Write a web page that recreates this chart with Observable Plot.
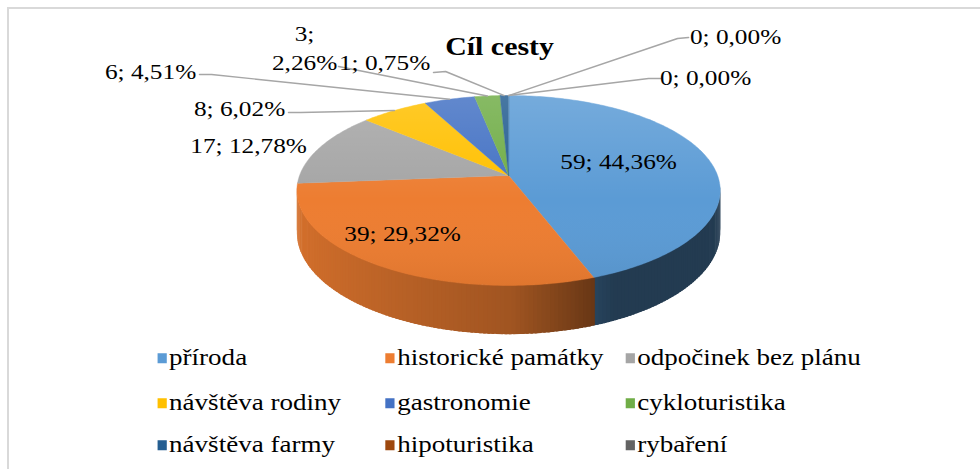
<!DOCTYPE html>
<html><head><meta charset="utf-8">
<script src="https://cdn.jsdelivr.net/npm/d3@7"></script>
<script src="https://cdn.jsdelivr.net/npm/@observablehq/plot@0.6"></script>
<style>
html,body{margin:0;padding:0;background:#fff;}
body{width:980px;height:469px;overflow:hidden;position:relative;font-family:"Liberation Serif",LiberationSerif,Tinos,"Times New Roman",Times,"DejaVu Serif",serif;}
#frame{position:absolute;left:7px;top:7px;right:-10px;bottom:-10px;border-top:2px solid #d9d9d9;border-left:2px solid #d9d9d9;}
#wrap{position:absolute;left:0;top:0;width:852px;height:469px;transform:scaleX(1.1502);transform-origin:0 0;}
#chart svg{display:block;}
#chart svg text{font-family:"Liberation Serif",LiberationSerif,Tinos,"Times New Roman",Times,"DejaVu Serif",serif !important;}
#legend{position:absolute;left:0;top:340px;width:852px;height:129px;}
.item{position:absolute;display:flex;align-items:center;font-size:23.5px;color:#000;white-space:nowrap;line-height:1;transform:translateY(-50%);}
.sw{width:8.5px;height:10px;margin-right:2px;flex:none;}
</style></head><body>
<div id="frame"></div>
<div id="wrap"><div id="chart"></div><div id="legend"></div></div>
<script>
// ---- data ----
const title = "Cíl cesty";
const categories = ["příroda","historické památky","odpočinek bez plánu","návštěva rodiny","gastronomie","cykloturistika","návštěva farmy","hipoturistika","rybaření"];
const counts = [59,39,17,8,6,3,1,0,0];
const colors = ["#5B9BD5","#ED7D31","#A5A5A5","#FFC000","#4472C4","#70AD47","#255E91","#9E480E","#636363"];

// ---- layout (not data) ----
const G = {cx:508, cy:175, rx:209, ry:92.6, persp:0.158, depth:41};
const labelLayout = [
  {i:0, x:618, y:159},
  {i:1, x:402, y:231},
  {i:2, x:248, y:143},
  {i:3, x:239, y:106, lead:[[288,112],[300,112]]},
  {i:4, x:150, y:69,  lead:[[199,74],[211,74]]},
  {i:5, x:304, y:46,  lead:[[338,66]], wrap:true},
  {i:6, x:384, y:60,  lead:[[433,72],[445,71]]},
  {i:7, x:735, y:34,  lead:[[688,37],[677,38]]},
  {i:8, x:705, y:75,  lead:[[660,78],[648,78]]}
];
const titlePos = {x:499, y:46};
const legendCols = [136.5, 334.8, 543.5];
const legendRows = [18, 63, 105];

// ---- geometry ----
const total = d3.sum(counts);
const pct = counts.map(c => (c/total*100).toFixed(2).replace(".", ",") + "%");
const arcs = d3.pie().sort(null).value(d => d)(counts);
function proj(theta, r = 1) {
  const u = Math.sin(theta)*r, v = Math.cos(theta)*r;
  const s = 1/(1 + G.persp*v);
  return [G.cx + G.rx*u*s, G.cy - G.ry*v*s, s];
}
function shade(col, f) { const c = d3.rgb(col); return d3.rgb(c.r*f, c.g*f, c.b*f).formatHex(); }
function sideFactor(u) { return u < 0 ? 0.68 - 0.22*u : Math.max(0.38, 0.68 - 0.7*u); }

const step = Math.PI/180;
const topRows = [], sideQuads = [];
arcs.forEach((a, i) => {
  if (a.endAngle - a.startAngle <= 0) return;
  const n = Math.max(2, Math.ceil((a.endAngle - a.startAngle)/step));
  const pts = d3.range(n+1).map(k => a.startAngle + (a.endAngle - a.startAngle)*k/n);
  const id = "t"+i;
  topRows.push({id, x:G.cx, y:G.cy, color:colors[i]});
  pts.forEach(t => { const [x,y] = proj(t); topRows.push({id, x, y, color:colors[i]}); });
  for (let k = 0; k < n; k++) {
    const tm = (pts[k]+pts[k+1])/2;
    if (Math.cos(tm) > -0.12) continue;   // only the visible (front) part of the wall
    const t0 = pts[k] - step*0.3, t1 = pts[k+1] + step*0.3;
    const [x0,y0,s0] = proj(t0), [x1,y1,s1] = proj(t1);
    const col = shade(colors[i], sideFactor(Math.sin(tm)));
    sideQuads.push({id:"s"+i+"_"+k, v:Math.cos(tm), col, pts:[[x0,y0-0.5],[x1,y1-0.5],[x1,y1+G.depth*s1],[x0,y0+G.depth*s0]]});
  }
});
sideQuads.sort((a,b) => b.v - a.v);
const sideRows = sideQuads.flatMap(q => q.pts.map(([x,y]) => ({id:q.id, x, y, color:q.col})));

// outline of the whole top face (for the lighting overlay)
const ring = d3.range(0, 361, 1).map(d => d*Math.PI/180);
const topOutline = ring.map(t => { const [x,y] = proj(t); return {x, y}; });

const labelRows = labelLayout.map(L => ({
  x:L.x, y:L.y,
  text: counts[L.i] + ";" + (L.wrap ? "\n" : " ") + pct[L.i]
}));
const leaderRows = labelLayout.filter(L => L.lead).flatMap(L => {
  const a = arcs[L.i];
  const [rx, ry] = proj((a.startAngle + a.endAngle)/2);
  return [...L.lead, [rx, ry]].map(([x,y]) => ({id:"l"+L.i, x, y}));
});

const FONT = "'Liberation Serif', LiberationSerif, Tinos, 'Times New Roman', Times, 'DejaVu Serif', serif";
const chart = Plot.plot({
  width: 852, height: 340, margin: 0,
  x: {domain:[0,980], range:[0,852], axis:null},
  y: {domain:[0,340], range:[0,340], axis:null},
  color: {type:"identity"},
  style: {fontFamily:FONT, background:"transparent", overflow:"visible"},
  marks: [
    Plot.line(sideRows, {x:"x", y:"y", z:"id", fill:"color", stroke:"none", curve:"linear-closed"}),
    Plot.line(topRows, {x:"x", y:"y", z:"id", fill:"color", stroke:"color", strokeWidth:0.4, curve:"linear-closed"}),
    Plot.line(topOutline, {x:"x", y:"y", fill:"url(#topLight)", stroke:"none", curve:"linear-closed"}),
    Plot.line(leaderRows, {x:"x", y:"y", z:"id", stroke:"#a6a6a6", strokeWidth:1.4}),
    Plot.text(labelRows, {x:"x", y:"y", text:"text", fontSize:22, lineHeight:1.32, fill:"#000", textAnchor:"middle", fontFamily:FONT}),
    Plot.text([title], {x:() => titlePos.x, y:() => titlePos.y, text:d => d, fontSize:26, fontWeight:"bold", fill:"#000", fontFamily:FONT})
  ]
});
// SVG defs: light gradient for the top face
const NS = "http://www.w3.org/2000/svg";
const defs = document.createElementNS(NS, "defs");
defs.innerHTML =
  '<linearGradient id="topLight" gradientUnits="userSpaceOnUse" x1="0" y1="95" x2="0" y2="285">' +
  '<stop offset="0" stop-color="#fff" stop-opacity="0.16"/>' +
  '<stop offset="0.55" stop-color="#fff" stop-opacity="0"/>' +
  '<stop offset="1" stop-color="#000" stop-opacity="0.06"/></linearGradient>';
chart.insertBefore(defs, chart.firstChild);
document.getElementById("chart").appendChild(chart);

const legend = document.getElementById("legend");
categories.forEach((c, i) => {
  const el = document.createElement("div");
  el.className = "item";
  el.style.left = legendCols[i % 3] + "px";
  el.style.top = legendRows[Math.floor(i/3)] + "px";
  const sw = document.createElement("span");
  sw.className = "sw"; sw.style.background = colors[i];
  const tx = document.createElement("span"); tx.textContent = c;
  el.appendChild(sw); el.appendChild(tx);
  legend.appendChild(el);
});
</script>
</body></html>
